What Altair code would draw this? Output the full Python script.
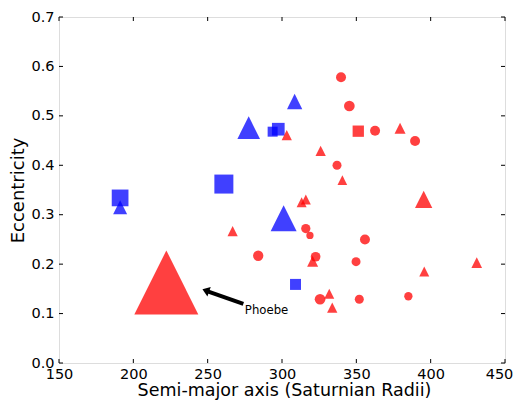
import altair as alt
import pandas as pd

# Prograde moons (blue)
pro_a = [191.1, 191.1, 260.9, 277.6, 293.7, 297.5, 308.5, 301.1, 309.1]
pro_e = [0.334, 0.315, 0.362, 0.476, 0.468, 0.473, 0.529, 0.293, 0.159]
pro_marker = ["square", "triangle", "square", "triangle", "square", "square",
              "triangle", "triangle", "square"]
pro_size = [280, 196, 361, 515, 100, 161, 234, 676, 121]

# Retrograde moons (red)
ret_a = [222.2, 339.7, 345.3, 351.3, 362.6, 379.4, 389.5, 326.0, 337.0, 340.6,
         395.3, 313.2, 316.0, 303.2, 266.8, 284.0, 316.0, 318.8, 355.8, 322.6,
         320.6, 349.8, 431.0, 395.7, 331.8, 325.6, 333.8, 352.0, 385.0]
ret_e = [0.163, 0.578, 0.520, 0.469, 0.470, 0.475, 0.449, 0.429, 0.400, 0.370,
         0.331, 0.325, 0.331, 0.461, 0.267, 0.217, 0.272, 0.258, 0.250, 0.215,
         0.206, 0.205, 0.203, 0.185, 0.140, 0.129, 0.112, 0.129, 0.135]
ret_marker = ["triangle", "circle", "circle", "square", "circle", "triangle",
              "circle", "triangle", "circle", "triangle", "triangle", "triangle",
              "triangle", "triangle", "triangle", "circle", "circle", "circle",
              "circle", "circle", "triangle", "circle", "triangle", "triangle",
              "triangle", "circle", "triangle", "circle", "circle"]
ret_size = [4096, 100, 114, 128, 100, 121, 100, 106, 81, 94,
            300, 100, 100, 106, 106, 106, 86, 53, 100, 94,
            121, 81, 114, 100, 100, 114, 106, 81, 69]

x_ticks = [150, 200, 250, 300, 350, 400, 450]
y_ticks = [0.0, 0.1, 0.2, 0.3, 0.4, 0.5, 0.6, 0.7]

# Annotation
label_text = ["Phoebe"]
label_a = [275.0]
label_e = [0.100]
arrow_tip_a = [246.5]
arrow_tip_e = [0.149]
arrow_shaft_a = [250.5, 274.0]
arrow_shaft_e = [0.1445, 0.1195]

W, H = 446, 346
FONT = "DejaVu Sans"

df = pd.DataFrame({
    "a": pro_a + ret_a,
    "e": pro_e + ret_e,
    "marker": pro_marker + ret_marker,
    "size": pro_size + ret_size,
    "group": ["prograde"] * len(pro_a) + ["retrograde"] * len(ret_a),
})

x_scale = alt.Scale(domain=[150, 450], nice=False, zero=False)
y_scale = alt.Scale(domain=[0, 0.7], nice=False, zero=False)

x_axis = alt.Axis(values=x_ticks, format="d", title="Semi-major axis (Saturnian Radii)",
                  tickSize=0, domain=False, grid=False, labelFlush=False, labelOverlap=False,
                  labelFont=FONT, labelFontSize=14.5, labelColor="black", labelPadding=4,
                  labelOffset={"condition": {"test": "datum.value == 450", "value": -6},
                               "value": 0},
                  titleFont=FONT, titleFontSize=17.5, titleFontWeight="normal",
                  titleColor="black", titleX=225, titleY=32.8, titleBaseline="alphabetic")
y_axis = alt.Axis(values=y_ticks, format=".1f", title="Eccentricity",
                  tickSize=0, domain=False, grid=False, labelFlush=False, labelOverlap=False,
                  labelFont=FONT, labelFontSize=14.5, labelColor="black", labelPadding=5,
                  titleFont=FONT, titleFontSize=18, titleFontWeight="normal",
                  titleColor="black", titleAngle=-90, titleX=-41, titleY=H / 2,
                  titleBaseline="middle", titleAlign="center")

X = alt.X("a:Q", scale=x_scale, axis=x_axis)
Y = alt.Y("e:Q", scale=y_scale, axis=y_axis)

points = alt.Chart(df).mark_point(filled=True, opacity=0.75, strokeWidth=0).encode(
    x=X, y=Y,
    color=alt.Color("group:N", scale=alt.Scale(domain=["prograde", "retrograde"],
                                               range=["#0000ff", "#ff0000"]), legend=None),
    shape=alt.Shape("marker:N", scale=alt.Scale(domain=["square", "circle", "triangle"],
                                                range=["square", "circle", "M0,-1L-1,1L1,1Z"]),
                    legend=None),
    size=alt.Size("size:Q", scale=None),
)

xt = pd.DataFrame({"a": x_ticks})
yt = pd.DataFrame({"e": y_ticks})
tick_bottom = alt.Chart(xt).mark_rule(color="black", strokeWidth=1).encode(
    x=X, y=alt.value(H), y2=alt.value(H - 4))
tick_top = alt.Chart(xt).mark_rule(color="black", strokeWidth=1).encode(
    x=X, y=alt.value(0), y2=alt.value(4))
tick_left = alt.Chart(yt).mark_rule(color="black", strokeWidth=1).encode(
    y=Y, x=alt.value(0), x2=alt.value(4))
tick_right = alt.Chart(yt).mark_rule(color="black", strokeWidth=1).encode(
    y=Y, x=alt.value(W), x2=alt.value(W - 4))

shaft = alt.Chart(pd.DataFrame({"a": arrow_shaft_a, "e": arrow_shaft_e})).mark_line(
    color="black", strokeWidth=4, strokeCap="butt").encode(x=X, y=Y)
head = alt.Chart(pd.DataFrame({"a": arrow_tip_a, "e": arrow_tip_e})).mark_point(
    shape="M0,0L1.4,-1L1.4,1Z", filled=True, color="black", opacity=1, size=100,
    angle=19.4, strokeWidth=0).encode(x=X, y=Y)
label = alt.Chart(pd.DataFrame({"a": label_a, "e": label_e, "t": label_text})).mark_text(
    align="left", baseline="alphabetic", font=FONT, fontSize=11.7, color="black").encode(
    x=X, y=Y, text="t:N")

chart = alt.layer(points, shaft, head, label, tick_bottom, tick_top, tick_left, tick_right).properties(
    width=W, height=H,
    autosize=alt.AutoSizeParams(type="none"),
    padding={"left": 51, "top": 9, "right": 8, "bottom": 37},
).configure_view(stroke="black", strokeWidth=1).configure(background="white")

chart.save("out.html", embed_options={"renderer": "svg", "actions": False})
